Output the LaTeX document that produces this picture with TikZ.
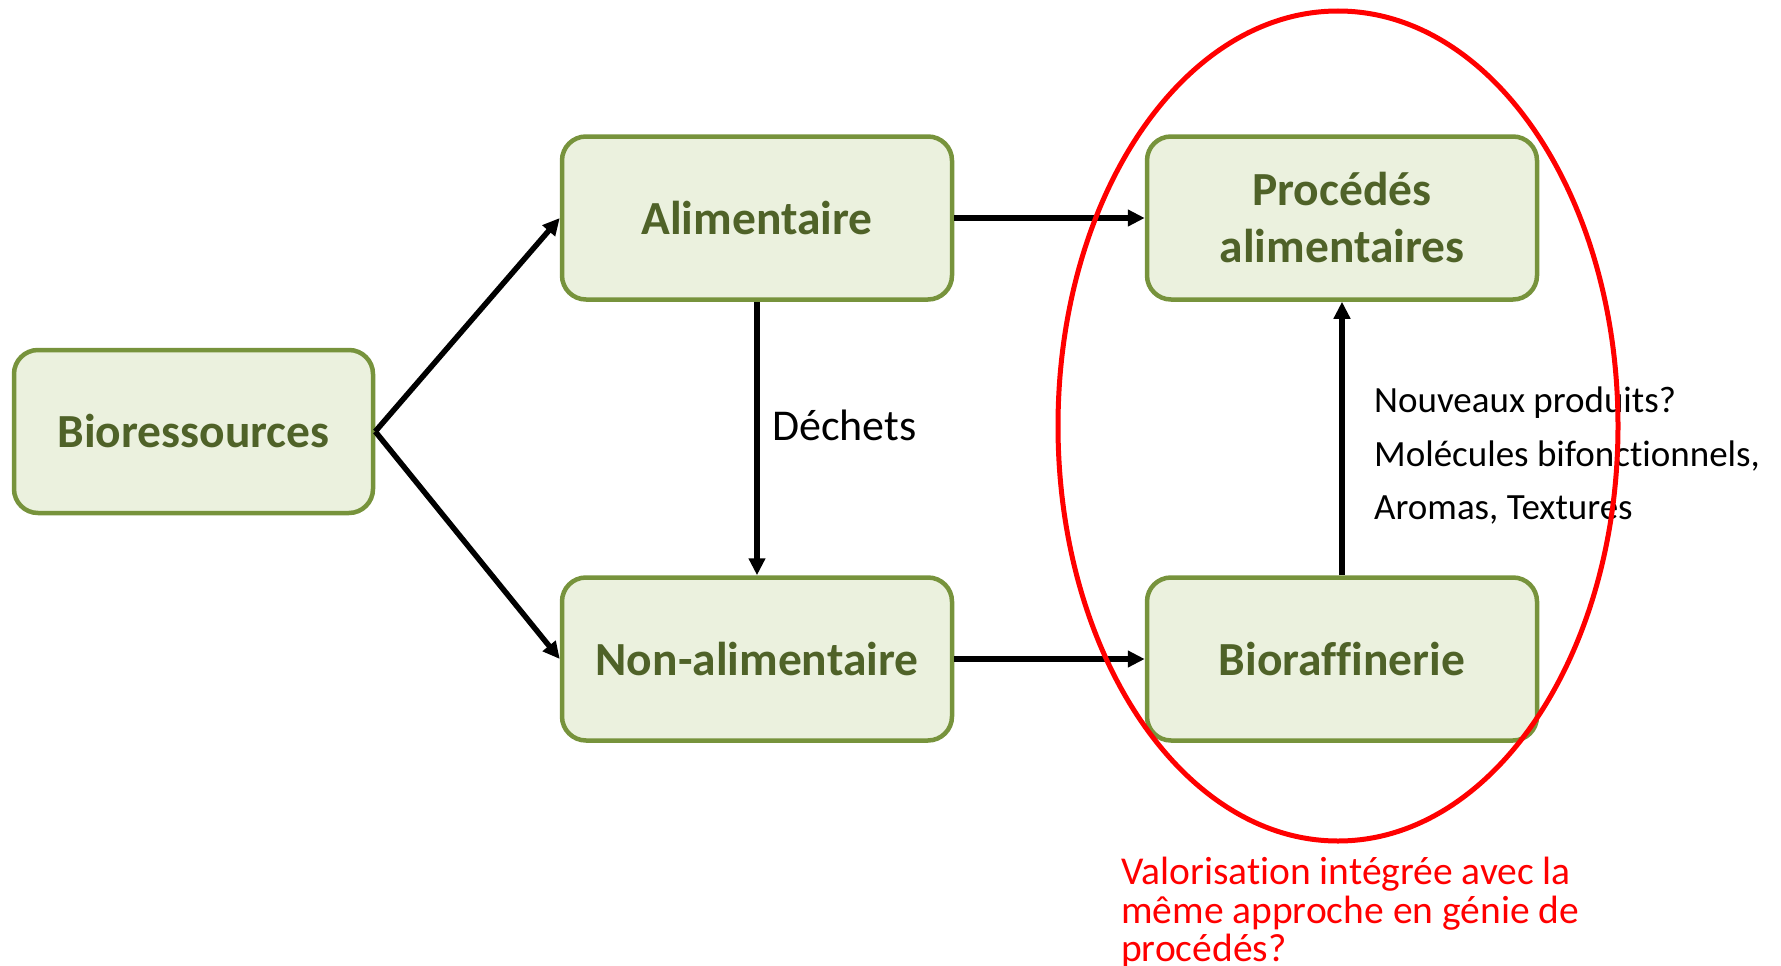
\documentclass[tikz,border=0pt]{standalone}
\usepackage{fontspec}
\setmainfont[Ligatures=NoCommon]{Carlito}
\usetikzlibrary{arrows.meta}
\definecolor{boxfill}{HTML}{EBF1DE}
\definecolor{boxline}{HTML}{77933C}
\definecolor{boxtext}{HTML}{4F6228}
\definecolor{redline}{HTML}{FF0000}
\tikzset{
  box/.style={draw=boxline, fill=boxfill, line width=4.5pt, rounded corners=24pt,
    minimum width=390pt, minimum height=163pt, align=center, text=boxtext,
    font=\fontsize{47.5}{57}\selectfont\bfseries, inner sep=0pt},
  conn/.style={line width=5.5pt, -{Triangle[length=17pt,width=16pt]}},
  note/.style={inner sep=0pt, align=left}
}
\begin{document}
\begin{tikzpicture}[x=1pt,y=-1pt]
\useasboundingbox (0,0) rectangle (1781,966);
\node[box, minimum width=359pt] (bio) at (193.5,431.5) {Bioressources};
\node[box] (alim) at (757,218) {Alimentaire};
\node[box] (nonalim) at (757,659) {Non-alimentaire};
\node[box] (proc) at (1342,218) {Procédés\\alimentaires};
\node[box] (biora) at (1342,659) {Bioraffinerie};
\draw[conn] (bio.east) -- (alim.west);
\draw[conn] (bio.east) -- (nonalim.west);
\draw[conn] (alim.east) -- (proc.west);
\draw[conn] (nonalim.east) -- (biora.west);
\draw[conn] (alim.south) -- (nonalim.north);
\draw[conn] (biora.north) -- (proc.south);
\node[note, anchor=west, font=\fontsize{44}{50}\selectfont] (dechets) at (772,425) {Déchets};
\node[note, anchor=north west, font=\fontsize{37}{53.5}\selectfont] (newprod) at (1374,387)
  {Nouveaux produits?\\Molécules bifonctionnels,\\Aromas, Textures};
\node[note, anchor=north west, text=redline, font=\fontsize{39.5}{38.5}\selectfont] (valor) at (1121,857)
  {Valorisation intégrée avec la\\même approche en génie de\\procédés?};
\draw[redline, line width=5pt] (1338,426) ellipse [x radius=280pt, y radius=415pt];
\end{tikzpicture}
\end{document}
